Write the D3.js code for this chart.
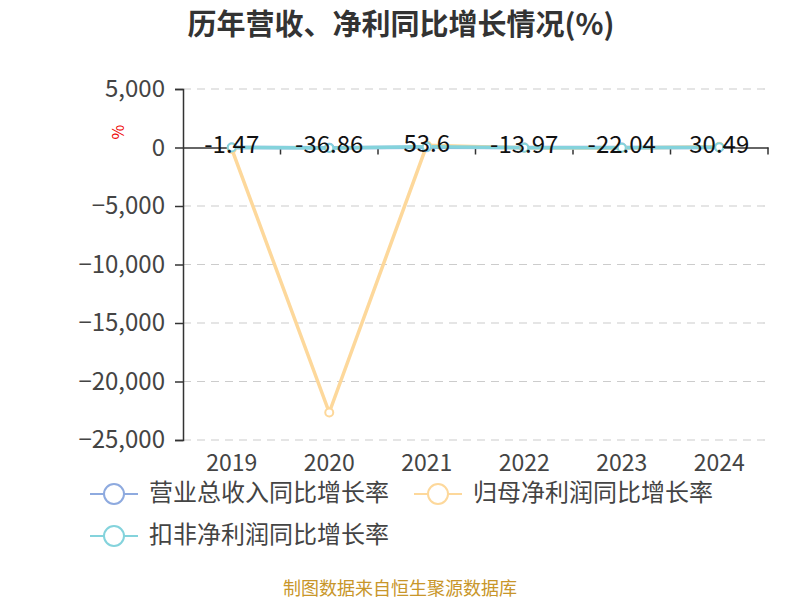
<!DOCTYPE html>
<html>
<head>
<meta charset="utf-8">
<script src="https://cdn.jsdelivr.net/npm/d3@7"></script>
<style>
body { margin: 0; background: #fff; }
text { font-family: "Noto Sans CJK SC", "Noto Sans", sans-serif; }
</style>
</head>
<body>
<script>
// chart data
var years = ["2019", "2020", "2021", "2022", "2023", "2024"];
var revenueGrowth = [4.2, -11.5, 16.8, -3.1, -7.6, 9.4];
var parentProfitGrowth = [-120, -22650, 180, -25, -45, 60];
var deductedProfitGrowth = [-1.47, -36.86, 53.6, -13.97, -22.04, 30.49];
var yTicks = [5000, 0, -5000, -10000, -15000, -20000, -25000];
var seriesNames = ["营业总收入同比增长率", "归母净利润同比增长率", "扣非净利润同比增长率"];
var colors = ["#8eaadf", "#fdd89b", "#84d3dc"];

var width = 800, height = 600;
var numFont = "'Open Sans', 'Noto Sans', sans-serif";
var svg = d3.select("body").append("svg")
    .attr("width", width)
    .attr("height", height);

var x = d3.scaleBand().domain(years).range([183, 768]);
var y = d3.scaleLinear().domain([-25000, 5000]).range([440, 89]);

// title
svg.append("text")
    .attr("x", 401).attr("y", 35)
    .attr("text-anchor", "middle")
    .attr("font-size", 29).attr("font-weight", "bold")
    .attr("fill", "#333")
    .text("历年营收、净利同比增长情况(%)");

// grid
svg.selectAll("line.grid")
    .data(yTicks.filter(function(d) { return d !== 0; }))
    .enter().append("line")
    .attr("class", "grid")
    .attr("x1", 183).attr("x2", 768)
    .attr("y1", function(d) { return y(d); })
    .attr("y2", function(d) { return y(d); })
    .attr("stroke", "#ccc")
    .attr("stroke-width", 1.2)
    .attr("stroke-dasharray", "8,6");

// y axis
var yAxis = d3.axisLeft(y).tickValues(yTicks).tickSize(8).tickPadding(10)
    .tickFormat(d3.format(","));
var gy = svg.append("g").attr("transform", "translate(183,0)").call(yAxis);
gy.select(".domain").attr("stroke", "#333").attr("stroke-width", 1.5);
gy.selectAll(".tick line").attr("stroke", "#333").attr("stroke-width", 1.5);
gy.selectAll(".tick text").attr("font-size", 24).attr("fill", "#444")
    .attr("font-family", numFont);

svg.append("text")
    .attr("transform", "translate(120,132) rotate(-90)")
    .attr("text-anchor", "middle")
    .attr("dominant-baseline", "middle")
    .attr("font-size", 16).attr("fill", "#e00")
    .text("%");

// x axis at zero
var gx = svg.append("g").attr("transform", "translate(0," + y(0) + ")")
    .call(d3.axisBottom(x).tickSize(0).tickFormat(""));
gx.select(".domain").attr("stroke", "#333").attr("stroke-width", 1.5);
var bounds = years.map(function(d) { return x(d); }).concat([x.range()[1]]);
gx.selectAll("line.bt")
    .data(bounds.slice(1))
    .enter().append("line")
    .attr("x1", function(d) { return d; }).attr("x2", function(d) { return d; })
    .attr("y1", 0).attr("y2", 7)
    .attr("stroke", "#333").attr("stroke-width", 1.5);

// year labels at bottom
svg.selectAll("text.year")
    .data(years)
    .enter().append("text")
    .attr("class", "year")
    .attr("x", function(d) { return x(d) + x.bandwidth() / 2; })
    .attr("y", 471)
    .attr("text-anchor", "middle")
    .attr("font-size", 23).attr("fill", "#444")
    .attr("font-family", numFont)
    .text(function(d) { return d; });

// lines
var allSeries = [revenueGrowth, parentProfitGrowth, deductedProfitGrowth];
var line = d3.line()
    .x(function(d, i) { return x(years[i]) + x.bandwidth() / 2; })
    .y(function(d) { return y(d); });

allSeries.forEach(function(vals, k) {
    svg.append("path")
        .datum(vals)
        .attr("d", line)
        .attr("fill", "none")
        .attr("stroke", colors[k])
        .attr("stroke-width", 3.5);
});
allSeries.forEach(function(vals, k) {
    svg.selectAll("circle.s" + k)
        .data(vals)
        .enter().append("circle")
        .attr("class", "s" + k)
        .attr("cx", function(d, i) { return x(years[i]) + x.bandwidth() / 2; })
        .attr("cy", function(d) { return y(d); })
        .attr("r", 4)
        .attr("fill", "#fff")
        .attr("stroke", colors[k])
        .attr("stroke-width", 2);
});

// labels for last series
svg.selectAll("text.lbl")
    .data(deductedProfitGrowth)
    .enter().append("text")
    .attr("class", "lbl")
    .attr("x", function(d, i) { return x(years[i]) + x.bandwidth() / 2; })
    .attr("y", function(d) { return y(d) - 1; })
    .attr("text-anchor", "middle")
    .attr("dominant-baseline", "middle")
    .attr("font-size", 24).attr("fill", "#111")
    .attr("font-family", numFont)
    .text(function(d) { return d; });

// legend
var legendPos = [[90, 494], [414, 494], [90, 536]];
seriesNames.forEach(function(name, k) {
    var g = svg.append("g").attr("transform", "translate(" + legendPos[k][0] + "," + legendPos[k][1] + ")");
    g.append("line").attr("x1", 0).attr("x2", 48).attr("y1", 0).attr("y2", 0)
        .attr("stroke", colors[k]).attr("stroke-width", 2);
    g.append("circle").attr("cx", 24).attr("cy", 0).attr("r", 10)
        .attr("fill", "#fff").attr("stroke", colors[k]).attr("stroke-width", 2);
    g.append("text").attr("x", 59).attr("y", 0)
        .attr("dominant-baseline", "middle")
        .attr("font-size", 24).attr("fill", "#444")
        .text(name);
});

// footer
svg.append("text")
    .attr("x", 400).attr("y", 590)
    .attr("text-anchor", "middle")
    .attr("dominant-baseline", "middle")
    .attr("font-size", 18).attr("fill", "#c8962a")
    .text("制图数据来自恒生聚源数据库");
</script>
</body>
</html>
